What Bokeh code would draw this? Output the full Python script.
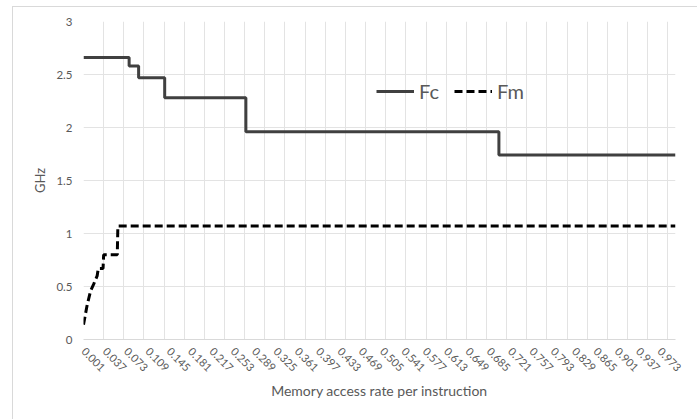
from bokeh.plotting import figure
from bokeh.models import Range1d, FixedTicker, Legend, LegendItem
from bokeh.embed import file_html
from bokeh.resources import INLINE

# Core (Fc) and memory (Fm) frequency, GHz, against memory access rate per instruction
fc_rate = [0.001, 0.078, 0.094, 0.138, 0.275, 0.702, 1.000]
fc_ghz = [2.66, 2.58, 2.47, 2.28, 1.96, 1.74, 1.74]

fm_rate = [0.001, 0.007, 0.013, 0.018, 0.024, 0.026, 0.034, 0.035, 0.058, 0.059, 1.000]
fm_ghz = [0.14, 0.32, 0.46, 0.52, 0.60, 0.67, 0.67, 0.80, 0.80, 1.07, 1.07]

rate_ticks = [0.001, 0.037, 0.073, 0.109, 0.145, 0.181, 0.217, 0.253, 0.289, 0.325,
              0.361, 0.397, 0.433, 0.469, 0.505, 0.541, 0.577, 0.613, 0.649, 0.685,
              0.721, 0.757, 0.793, 0.829, 0.865, 0.901, 0.937, 0.973]
rate_labels = ["0.001", "0.037", "0.073", "0.109", "0.145", "0.181", "0.217", "0.253",
               "0.289", "0.325", "0.361", "0.397", "0.433", "0.469", "0.505", "0.541",
               "0.577", "0.613", "0.649", "0.685", "0.721", "0.757", "0.793", "0.829",
               "0.865", "0.901", "0.937", "0.973"]
ghz_ticks = [0, 0.5, 1, 1.5, 2, 2.5, 3]
ghz_labels = ["0", "0.5", "1", "1.5", "2", "2.5", "3"]

FONT = "Lato"
TEXT = "#595959"
GRID = "#e3e3e3"

# the chart sits inside a thin frame offset from the page corner
p = figure(width=685, height=413, output_backend="svg", toolbar_location=None,
           x_range=Range1d(0.001, 1.000), y_range=Range1d(0, 3),
           min_border_left=70, min_border_right=23, min_border_top=14,
           min_border_bottom=81, background_fill_color="white",
           border_fill_color="white", margin=(6, 0, 0, 12))
p.styles = {"border-top": "1px solid #d9d9d9", "border-left": "1px solid #d9d9d9"}
p.outline_line_color = None

# vertical grid every 34 categories (tick-mark interval)
grid_ticks = [0.001 + 0.034 * k for k in range(30)]
p.xgrid.ticker = FixedTicker(ticks=grid_ticks)
p.ygrid.ticker = FixedTicker(ticks=ghz_ticks)
for g in (p.xgrid, p.ygrid):
    g.grid_line_color = GRID
    g.grid_line_width = 1

xa = p.xaxis[0]
xa.ticker = FixedTicker(ticks=rate_ticks)
xa.major_label_overrides = {t: s for t, s in zip(rate_ticks, rate_labels)}
xa.major_label_orientation = -0.785398
xa.major_tick_out = 0
xa.major_tick_in = 0
xa.minor_tick_out = 0
xa.minor_tick_in = 0
xa.axis_line_color = "#d9d9d9"
xa.major_label_standoff = 10
xa.major_label_text_font = FONT
xa.major_label_text_font_size = "11px"
xa.major_label_text_color = TEXT
xa.axis_label = "Memory access rate per instruction"
xa.axis_label_text_font = FONT
xa.axis_label_text_font_size = "14px"
xa.axis_label_text_font_style = "normal"
xa.axis_label_text_color = TEXT
xa.axis_label_standoff = 4

ya = p.yaxis[0]
ya.ticker = FixedTicker(ticks=ghz_ticks)
ya.major_label_overrides = {t: s for t, s in zip(ghz_ticks, ghz_labels)}
ya.major_tick_out = 0
ya.major_tick_in = 0
ya.minor_tick_out = 0
ya.minor_tick_in = 0
ya.axis_line_color = None
ya.major_label_standoff = 11
ya.major_label_text_font = FONT
ya.major_label_text_font_size = "11.5px"
ya.major_label_text_color = TEXT
ya.axis_label = "GHz"
ya.axis_label_text_font = FONT
ya.axis_label_text_font_size = "13px"
ya.axis_label_text_font_style = "normal"
ya.axis_label_text_color = TEXT
ya.axis_label_standoff = 5

fc = p.step(fc_rate, fc_ghz, mode="after", line_color="#404040", line_width=3)
fm = p.line(fm_rate, fm_ghz, line_color="#000000", line_width=3, line_dash="8 4")

legend = Legend(items=[LegendItem(label="Fc", renderers=[fc]),
                       LegendItem(label="Fm", renderers=[fm])],
                orientation="horizontal", location=(293, 236),
                padding=0, margin=0, spacing=15, label_standoff=5,
                glyph_width=38, glyph_height=20,
                label_text_font=FONT, label_text_font_size="20px",
                label_text_color=TEXT, border_line_color=None,
                background_fill_alpha=0)
p.add_layout(legend)

open("out.html", "w").write(file_html(p, INLINE))
